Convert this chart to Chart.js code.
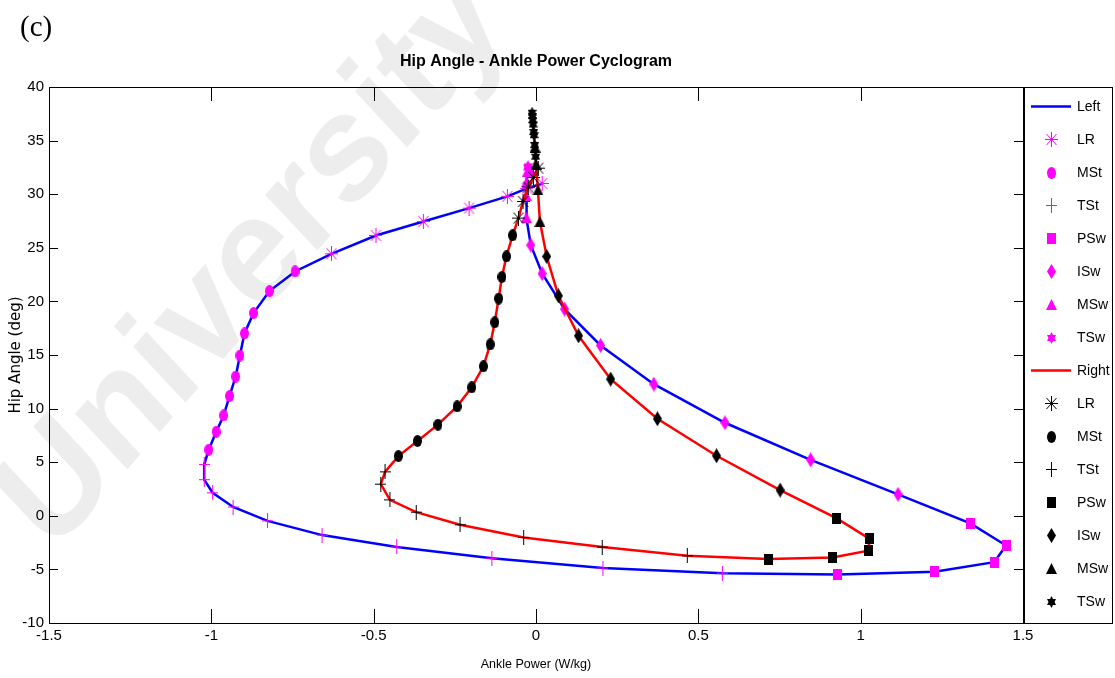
<!DOCTYPE html>
<html>
<head>
<meta charset="utf-8">
<script src="https://cdn.jsdelivr.net/npm/chart.js@4.4.0/dist/chart.umd.min.js"></script>
<style>
  html, body { margin: 0; padding: 0; background: #fff; }
  #wrap { width: 1115px; height: 678px; position: relative; }
</style>
</head>
<body>
<div id="wrap"><canvas id="c" width="1115" height="678"></canvas></div>
<script>
// Gait phases, in the order they are plotted for each side
const phaseNames = ['LR', 'MSt', 'TSt', 'PSw', 'ISw', 'MSw', 'TSw'];

// Axis tick labels
const xTickLabels = ['-1.5', '-1', '-0.5', '0', '0.5', '1', '1.5'];
const yTickLabels = ['-10', '-5', '0', '5', '10', '15', '20', '25', '30', '35', '40'];

// Left side: [ankle power (W/kg), hip angle (deg)] per phase
const leftLR  = [[0.019, 31.0], [-0.028, 30.55], [-0.088, 29.8], [-0.206, 28.7], [-0.347, 27.45], [-0.493, 26.15], [-0.630, 24.44]];
const leftMSt = [[-0.742, 22.79], [-0.821, 20.96], [-0.870, 18.91], [-0.898, 17.01], [-0.912, 14.95], [-0.925, 12.99], [-0.944, 11.17], [-0.962, 9.36], [-0.985, 7.84], [-1.008, 6.16]];
const leftTSt = [[-1.022, 4.78], [-1.022, 3.37], [-0.996, 2.15], [-0.933, 0.82], [-0.827, -0.47], [-0.659, -1.8], [-0.429, -2.9], [-0.136, -3.96], [0.206, -4.87], [0.574, -5.35]];
const leftPSw = [[0.930, -5.47], [1.228, -5.22], [1.411, -4.32], [1.448, -2.77], [1.338, -0.71]];
const leftISw = [[1.115, 2.0], [0.846, 5.22], [0.582, 8.68], [0.363, 12.28], [0.199, 15.89], [0.088, 19.28], [0.019, 22.6], [-0.016, 25.25]];
const leftMSw = [[-0.030, 27.86], [-0.030, 29.9], [-0.028, 31.2], [-0.027, 32.1]];
const leftTSw = [[-0.026, 32.5], [-0.024, 32.6], [-0.020, 32.3], [-0.012, 31.8]];

// Right side: [ankle power (W/kg), hip angle (deg)] per phase
const rightLR  = [[0.007, 32.43], [-0.008, 31.56], [-0.024, 30.66], [-0.040, 29.32], [-0.054, 27.77]];
const rightMSt = [[-0.072, 26.16], [-0.091, 24.2], [-0.105, 22.28], [-0.115, 20.27], [-0.127, 18.05], [-0.141, 15.99], [-0.162, 13.94], [-0.198, 11.98], [-0.243, 10.2], [-0.302, 8.5], [-0.365, 6.98], [-0.424, 5.57]];
const rightTSt = [[-0.465, 4.10], [-0.478, 2.95], [-0.450, 1.49], [-0.369, 0.34], [-0.234, -0.84], [-0.038, -2.02], [0.204, -2.92], [0.466, -3.73]];
const rightPSw = [[0.715, -4.04], [0.914, -3.89], [1.023, -3.26], [1.028, -2.15], [0.925, -0.22]];
const rightISw = [[0.752, 2.4], [0.556, 5.6], [0.374, 9.05], [0.230, 12.75], [0.131, 16.79], [0.069, 20.52], [0.033, 24.19]];
const rightMSw = [[0.012, 27.45], [0.006, 30.4], [0.0, 32.8], [-0.003, 34.4]];
const rightTSw = [[-0.006, 35.5], [-0.009, 36.5], [-0.011, 37.3], [-0.012, 37.6], [-0.010, 36.9], [-0.007, 35.8], [-0.004, 34.6], [-0.001, 33.5]];

const SANS = '"Liberation Sans", Arial, Helvetica, sans-serif';

// Marker glyphs (MATLAB-like: *, o, +, s, d, ^, h), drawn once into small canvases
function markerCanvas(kind, color) {
  const sizes = { star: [13, 15], circle: [9, 12], plus: [11, 15], square: [9, 11], diamond: [9, 15], triangle: [11, 11], hexagram: [9, 12] };
  const [w, h] = sizes[kind];
  const c = document.createElement('canvas');
  c.width = w; c.height = h;
  const g = c.getContext('2d');
  g.fillStyle = color; g.strokeStyle = color; g.lineWidth = 1;
  const cx = w / 2, cy = h / 2;
  const tri = pts => { g.beginPath(); g.moveTo(pts[0], pts[1]); g.lineTo(pts[2], pts[3]); g.lineTo(pts[4], pts[5]); g.closePath(); g.fill(); };
  g.beginPath();
  switch (kind) {
    case 'star':
      g.moveTo(cx, 0); g.lineTo(cx, h);
      g.moveTo(0, cy); g.lineTo(w, cy);
      g.moveTo(1.5, 2); g.lineTo(w - 1.5, h - 2);
      g.moveTo(w - 1.5, 2); g.lineTo(1.5, h - 2);
      g.stroke();
      break;
    case 'plus':
      g.moveTo(cx, 0); g.lineTo(cx, h);
      g.moveTo(0, cy); g.lineTo(w, cy);
      g.stroke();
      break;
    case 'circle':
      g.ellipse(cx, cy, w / 2, h / 2, 0, 0, Math.PI * 2);
      g.fill();
      break;
    case 'square':
      g.rect(0, 0, w, h);
      g.fill();
      break;
    case 'diamond':
      g.moveTo(cx, 0); g.lineTo(w, cy); g.lineTo(cx, h); g.lineTo(0, cy); g.closePath();
      g.fill();
      break;
    case 'triangle':
      g.moveTo(cx, 0); g.lineTo(w, h); g.lineTo(0, h); g.closePath();
      g.fill();
      break;
    case 'hexagram':
      tri([cx, 0, w, h * 0.75, 0, h * 0.75]);
      tri([cx, h, w, h * 0.25, 0, h * 0.25]);
      break;
  }
  return c;
}

const markerKinds = ['star', 'circle', 'plus', 'square', 'diamond', 'triangle', 'hexagram'];

const toXY = arr => arr.map(([x, y]) => ({ x, y }));

const datasets = [];
function addSide(name, lineColor, markColor, phases) {
  datasets.push({
    label: name,
    data: toXY(phases.flat()),
    showLine: true,
    borderColor: lineColor,
    backgroundColor: lineColor,
    borderWidth: 2.5,
    pointRadius: 0,
    fill: false
  });
  phases.forEach((arr, i) => {
    datasets.push({
      label: phaseNames[i],
      data: toXY(arr),
      showLine: false,
      pointStyle: markerCanvas(markerKinds[i], markColor),
      pointRadius: 6,
      borderColor: markColor,
      backgroundColor: markColor
    });
  });
}
addSide('Left', '#0000ff', '#ff00ff', [leftLR, leftMSt, leftTSt, leftPSw, leftISw, leftMSw, leftTSw]);
addSide('Right', '#ff0000', '#000000', [rightLR, rightMSt, rightTSt, rightPSw, rightISw, rightMSw, rightTSw]);
// later series sit on top of earlier ones
datasets.forEach((ds, i) => { ds.order = datasets.length - i; });

// White page, faint repository watermark and the panel tag
const paperPlugin = {
  id: 'paper',
  beforeDraw(chart) {
    const ctx = chart.ctx;
    ctx.save();
    ctx.fillStyle = '#ffffff';
    ctx.fillRect(0, 0, chart.width, chart.height);
    ctx.translate(52, 556);
    ctx.scale(0.9, 1);
    ctx.rotate(-46 * Math.PI / 180);
    ctx.font = 'bold 152px ' + SANS;
    ctx.fillStyle = '#ededed';
    ctx.textBaseline = 'alphabetic';
    ctx.fillText('University of Malaya', 0, 0);
    ctx.restore();

    ctx.save();
    ctx.font = '29px "Liberation Serif", "Times New Roman", serif';
    ctx.fillStyle = '#000';
    ctx.textBaseline = 'alphabetic';
    ctx.fillText('(c)', 20, 36);
    ctx.restore();
  }
};

// Boxed axes with inward ticks on all four sides, plus the boxed legend on the right
const framePlugin = {
  id: 'frame',
  afterDraw(chart) {
    const ctx = chart.ctx;
    const { left, right, top, bottom } = chart.chartArea;
    const xs = chart.scales.x, ys = chart.scales.y;
    ctx.save();
    ctx.strokeStyle = '#000';
    ctx.lineWidth = 1;
    ctx.beginPath();
    xs.ticks.forEach(t => {
      const px = Math.round(xs.getPixelForValue(t.value)) + 0.5;
      ctx.moveTo(px, bottom); ctx.lineTo(px, bottom - 14);
      ctx.moveTo(px, top); ctx.lineTo(px, top + 14);
    });
    ys.ticks.forEach(t => {
      const py = Math.round(ys.getPixelForValue(t.value)) + 0.5;
      ctx.moveTo(left, py); ctx.lineTo(left + 9, py);
      ctx.moveTo(right, py); ctx.lineTo(right - 9, py);
    });
    ctx.stroke();
    ctx.strokeRect(Math.round(left) + 0.5, Math.round(top) + 0.5, Math.round(right - left), Math.round(bottom - top));

    // legend
    const lx0 = Math.round(right) + 1.5, lx1 = 1112.5;
    ctx.strokeRect(lx0, Math.round(top) + 0.5, lx1 - lx0, Math.round(bottom - top));
    const step = 33.0;
    ctx.font = '14px ' + SANS;
    ctx.textBaseline = 'middle';
    ctx.textAlign = 'left';
    chart.data.datasets.forEach((ds, i) => {
      const y = top + 19.5 + i * step;
      if (ds.showLine) {
        ctx.strokeStyle = ds.borderColor;
        ctx.lineWidth = 2.5;
        ctx.beginPath();
        ctx.moveTo(1031, y); ctx.lineTo(1071, y);
        ctx.stroke();
      } else {
        const img = ds.pointStyle;
        ctx.drawImage(img, Math.round(1051 - img.width / 2), Math.round(y - img.height / 2));
      }
      ctx.fillStyle = '#000';
      ctx.fillText(ds.label, 1077, y + 1);
    });
    ctx.restore();
  }
};

new Chart(document.getElementById('c'), {
  type: 'scatter',
  data: { datasets },
  options: {
    responsive: false,
    animation: false,
    devicePixelRatio: 1,
    events: [],
    layout: { padding: { left: 0, right: 92, top: 0, bottom: 0 } },
    plugins: {
      legend: { display: false },
      tooltip: { enabled: false },
      title: {
        display: true,
        text: 'Hip Angle - Ankle Power Cyclogram',
        fullSize: false,
        color: '#000',
        font: { family: SANS, size: 16, weight: 'bold' },
        padding: { top: 52.4, bottom: 15.4 }
      }
    },
    scales: {
      x: {
        type: 'linear',
        position: 'bottom',
        min: -1.5,
        max: 1.5,
        ticks: {
          stepSize: 0.5, color: '#000', padding: 4, maxRotation: 0, autoSkip: false,
          font: { family: SANS, size: 15 },
          callback: (v, i) => xTickLabels[i]
        },
        grid: { display: false, drawTicks: false },
        border: { display: false },
        title: {
          display: true, text: 'Ankle Power (W/kg)', color: '#000',
          font: { family: SANS, size: 12.5 },
          padding: { top: 0, bottom: 5.5 }
        },
        afterFit(s) { s.height = 55; }
      },
      y: {
        type: 'linear',
        min: -10,
        max: 40,
        ticks: {
          stepSize: 5, color: '#000', padding: 5, autoSkip: false,
          font: { family: SANS, size: 15 },
          callback: (v, i) => yTickLabels[i]
        },
        grid: { display: false, drawTicks: false },
        border: { display: false },
        title: {
          display: true, text: 'Hip Angle (deg)', color: '#000',
          font: { family: '"DejaVu Sans", sans-serif', size: 15 },
          padding: { top: 7, bottom: 0 }
        },
        afterFit(s) { s.width = 49; }
      }
    }
  },
  plugins: [paperPlugin, framePlugin]
});
</script>
</body>
</html>
